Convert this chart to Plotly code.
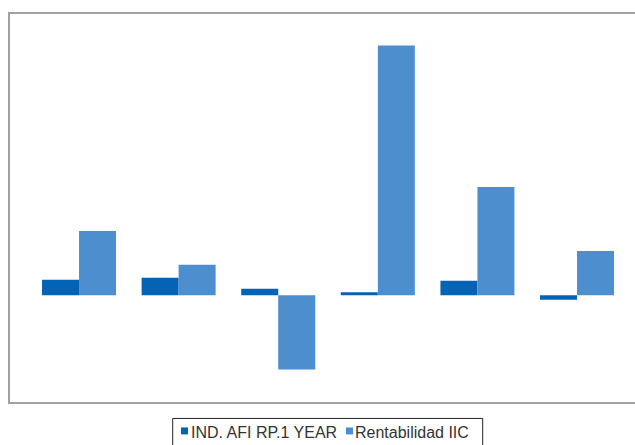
import plotly.graph_objects as go

categories = ["1", "2", "3", "4", "5", "6"]
ind_afi = [0.62, 0.70, 0.26, 0.12, 0.58, -0.18]
rentabilidad = [2.58, 1.22, -2.98, 10.02, 4.34, 1.78]
series_names = ["IND. AFI RP.1 YEAR", "Rentabilidad IIC"]
series_colors = ["#0563B5", "#4D8FCE"]

fig = go.Figure()
fig.add_trace(go.Bar(x=categories, y=ind_afi, name=series_names[0], showlegend=False,
                     marker=dict(color=series_colors[0], line=dict(width=0))))
fig.add_trace(go.Bar(x=categories, y=rentabilidad, name=series_names[1], showlegend=False,
                     marker=dict(color=series_colors[1], line=dict(width=0))))

# custom legend (box, swatches, labels) in paper coordinates
shapes = [dict(type="rect", xref="paper", yref="paper", x0=0.2603, x1=0.7563, y0=-0.13, y1=-0.0424,
               line=dict(color="#222222", width=1), fillcolor="rgba(0,0,0,0)", layer="above")]
swatch_x = [(0.2736, 0.2848), (0.5376, 0.5488)]
label_x = [0.288, 0.5504]
annotations = []
for (x0, x1), lx, name, col in zip(swatch_x, label_x, series_names, series_colors):
    shapes.append(dict(type="rect", xref="paper", yref="paper", x0=x0, x1=x1, y0=-0.0835, y1=-0.0656,
                       line=dict(width=0), fillcolor=col))
    annotations.append(dict(xref="paper", yref="paper", x=lx, y=-0.0784, xanchor="left", yanchor="middle",
                            text=name, showarrow=False, borderpad=0,
                            font=dict(family="Liberation Sans, Arial", size=16, color="#333333")))

fig.update_layout(
    width=635, height=445,
    margin=dict(l=10, r=0, t=13.5, b=42.5, autoexpand=False),
    paper_bgcolor="white", plot_bgcolor="white",
    barmode="group", bargap=0.257, bargroupgap=0,
    font=dict(family="Liberation Sans, Arial", size=13, color="#333333"),
    showlegend=False,
    shapes=shapes, annotations=annotations,
    xaxis=dict(range=[-0.693, 5.582], showticklabels=False, ticks="", showgrid=False,
               zeroline=False, showline=True, mirror=True, linecolor="#a0a0a0", linewidth=2),
    yaxis=dict(range=[-4.28, 11.28], showticklabels=False, ticks="", showgrid=False,
               zeroline=False, showline=True, mirror=False, linecolor="#a0a0a0", linewidth=2),
)

fig.write_html(
    "out.html",
    config={"displayModeBar": False},
    post_script="document.body.style.margin='0';document.body.style.overflow='hidden';"
                "document.documentElement.style.overflow='hidden';",
)
